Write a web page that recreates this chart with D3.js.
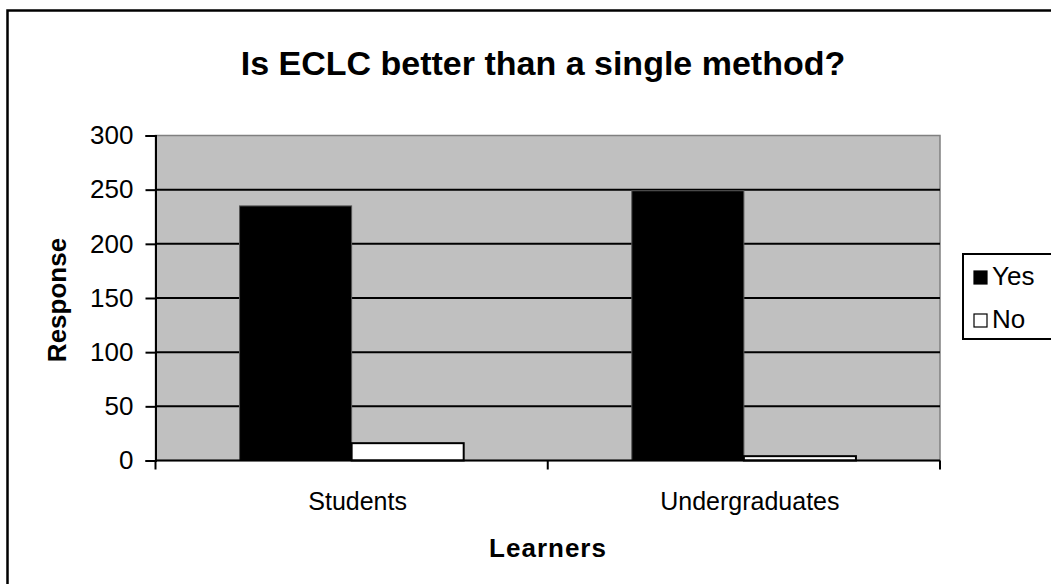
<!DOCTYPE html>
<html>
  <head>
    <meta charset="utf-8">
    <script src="https://d3js.org/d3.v7.min.js"></script>
    <style>
      body { margin: 0; background: white; }
      text { font-family: "Liberation Sans", Arial, sans-serif; fill: black; }
    </style>
  </head>
  <body>
    <div id="chart"></div>
    <script>
      // data
      const categories = ['Students', 'Undergraduates']
      const series = ['Yes', 'No']
      const yesValues = [235, 249]
      const noValues = [16, 4]
      const yTicks = [0, 50, 100, 150, 200, 250, 300]
      const seriesFill = {Yes: '#000000', No: '#ffffff'}

      const W = 1051, H = 584
      const plot = {left: 155.5, right: 940, top: 135.5, bottom: 460.5}

      const svg = d3.select('#chart').append('svg')
        .attr('width', W).attr('height', H)

      // outer chart border (runs off the picture at right / bottom)
      svg.append('rect')
        .attr('x', 7.5).attr('y', 10.5)
        .attr('width', W + 20).attr('height', H + 20)
        .attr('fill', 'white').attr('stroke', 'black').attr('stroke-width', 2.5)

      const x = d3.scaleBand().domain(categories).range([plot.left, plot.right])
      const xs = d3.scaleBand().domain(series).range([0, x.bandwidth()]).paddingInner(0).paddingOuter(0.75)
      const y = d3.scaleLinear().domain([0, 300]).range([plot.bottom, plot.top])

      // plot area
      svg.append('rect')
        .attr('x', plot.left).attr('y', plot.top)
        .attr('width', plot.right - plot.left).attr('height', plot.bottom - plot.top)
        .attr('fill', '#c0c0c0').attr('stroke', '#808080').attr('stroke-width', 1.5)

      // gridlines
      svg.append('g').selectAll('line')
        .data(yTicks.filter(d => d > 0 && d < 300))
        .join('line')
          .attr('x1', plot.left).attr('x2', plot.right)
          .attr('y1', d => y(d)).attr('y2', d => y(d))
          .attr('stroke', 'black').attr('stroke-width', 2)

      const rows = categories.map((c, i) => ({cat: c, Yes: yesValues[i], No: noValues[i]}))

      svg.append('g').selectAll('g')
        .data(rows)
        .join('g')
          .attr('transform', d => `translate(${x(d.cat)},0)`)
        .selectAll('rect')
        .data(d => series.map(s => ({s, v: d[s]})))
        .join('rect')
          .attr('x', d => xs(d.s))
          .attr('y', d => y(d.v))
          .attr('width', xs.bandwidth())
          .attr('height', d => y(0) - y(d.v))
          .attr('fill', d => seriesFill[d.s])
          .attr('stroke', d => d.s === 'Yes' ? '#555' : 'black')
          .attr('stroke-width', d => d.s === 'Yes' ? 1 : 2)

      // y axis
      const yAxis = svg.append('g')
        .attr('transform', `translate(${plot.left},0)`)
        .call(d3.axisLeft(y).tickValues(yTicks).tickSize(10).tickPadding(12))
      yAxis.select('.domain').attr('stroke', 'black').attr('stroke-width', 2)
      yAxis.selectAll('.tick line').attr('stroke', 'black').attr('stroke-width', 2)
      yAxis.selectAll('text').style('font-size', '26px')
        .style('font-family', '"Liberation Sans", Arial, sans-serif')

      // x axis: ticks at category boundaries
      const xAxis = svg.append('g')
        .attr('transform', `translate(0,${plot.bottom})`)
      xAxis.append('line')
        .attr('x1', plot.left).attr('x2', plot.right)
        .attr('stroke', 'black').attr('stroke-width', 2)
      xAxis.selectAll('line.tk')
        .data([plot.left, ...categories.map(c => x(c) + x.bandwidth())])
        .join('line').attr('class', 'tk')
          .attr('x1', d => d).attr('x2', d => d)
          .attr('y1', 0).attr('y2', 9)
          .attr('stroke', 'black').attr('stroke-width', 2)
      xAxis.selectAll('text')
        .data(categories)
        .join('text')
          .attr('x', d => x(d) + x.bandwidth() / 2 + 6)
          .attr('y', 49)
          .attr('text-anchor', 'middle')
          .style('font-size', '25px')
          .text(d => d)

      // title + axis titles
      svg.append('text')
        .attr('x', 543).attr('y', 75)
        .attr('text-anchor', 'middle')
        .style('font-size', '34px').style('font-weight', 'bold')
        .text('Is ECLC better than a single method?')

      svg.append('text')
        .attr('transform', 'translate(66,300) rotate(-90)')
        .attr('text-anchor', 'middle')
        .style('font-size', '26px').style('font-weight', 'bold')
        .text('Response')

      svg.append('text')
        .attr('x', 548).attr('y', 557)
        .attr('text-anchor', 'middle')
        .style('font-size', '26px').style('font-weight', 'bold')
        .style('letter-spacing', '1px')
        .text('Learners')

      // legend
      const lg = svg.append('g').attr('transform', 'translate(963,254)')
      lg.append('rect')
        .attr('width', 120).attr('height', 85)
        .attr('fill', 'white').attr('stroke', 'black').attr('stroke-width', 2)
      const items = lg.selectAll('g.item')
        .data(series)
        .join('g').attr('class', 'item')
          .attr('transform', (d, i) => `translate(11,${17 + i * 43})`)
      items.append('rect')
        .attr('width', 13).attr('height', 13)
        .attr('fill', d => seriesFill[d]).attr('stroke', 'black').attr('stroke-width', 1.2)
      items.append('text')
        .attr('x', 18).attr('y', 14)
        .style('font-size', '26px')
        .text(d => d)
    </script>
  </body>
</html>
